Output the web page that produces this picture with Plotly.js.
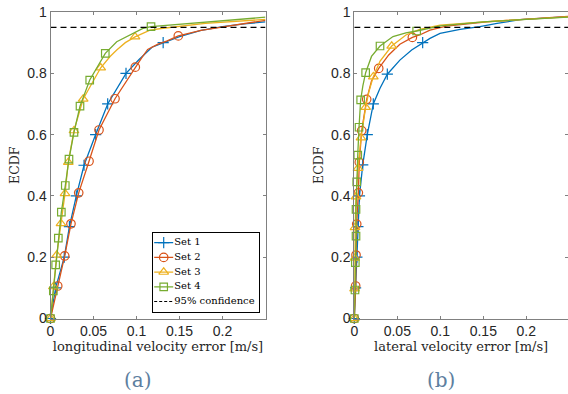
<!DOCTYPE html>
<html><head><meta charset="utf-8">
<script src="https://cdn.plot.ly/plotly-3.0.1.min.js"></script>
<style>html,body{margin:0;padding:0;background:#fff}#chart{width:568px;height:394px}</style>
</head><body><div id="chart"></div>
<script>
// ---------------- data ----------------
const seriesNames = ["Set 1", "Set 2", "Set 3", "Set 4"];
const confidenceLabel = "95% confidence";
const confidenceLevel = 0.95;
const xTickVals = [0, 0.05, 0.1, 0.15, 0.2];
const xTickText = ["0", "0.05", "0.1", "0.15", "0.2"];
const yTickVals = [0, 0.2, 0.4, 0.6, 0.8, 1];
const yTickText = ["0", "0.2", "0.4", "0.6", "0.8", "1"];
const yLabel = "ECDF";
const xLabelLong = "longitudinal velocity error [m/s]";
const xLabelLat = "lateral velocity error [m/s]";
const panelLabels = ["(a)", "(b)"];
const xMaxLong = 0.25;
const xMaxLat = 0.2485;

// (a) longitudinal: marked samples + extra line samples
const longSet1MarkX = [0, 0.006, 0.016, 0.022, 0.030, 0.039, 0.0525, 0.0665, 0.0878, 0.131];
const longSet1MarkY = [0, 0.1, 0.2, 0.3, 0.4, 0.5, 0.6, 0.7, 0.8, 0.9];
const longSet1LineX = [0.103, 0.118, 0.15, 0.175, 0.2, 0.225, 0.25];
const longSet1LineY = [0.845, 0.885, 0.92, 0.94, 0.952, 0.961, 0.968];

const longSet2MarkX = [0, 0.0084, 0.0165, 0.0238, 0.0328, 0.0448, 0.0564, 0.075, 0.0986, 0.1486];
const longSet2MarkY = [0, 0.106, 0.204, 0.309, 0.41, 0.513, 0.615, 0.717, 0.82, 0.922];
const longSet2LineX = [0.106, 0.113, 0.125, 0.135, 0.175, 0.201, 0.225, 0.25];
const longSet2LineY = [0.85, 0.878, 0.895, 0.905, 0.94, 0.952, 0.962, 0.973];

const longSet3MarkX = [0, 0.0033, 0.0072, 0.0122, 0.0169, 0.0207, 0.0273, 0.038, 0.0584, 0.0983];
const longSet3MarkY = [0, 0.104, 0.207, 0.31, 0.408, 0.51, 0.613, 0.716, 0.818, 0.919];
const longSet3LineX = [0.069, 0.077, 0.087, 0.1157, 0.131, 0.18, 0.25];
const longSet3LineY = [0.854, 0.876, 0.9, 0.941, 0.947, 0.963, 0.976];

const longSet4MarkX = [0, 0.0033, 0.006, 0.0091, 0.0126, 0.0172, 0.0215, 0.0273, 0.0343, 0.0456, 0.0637, 0.1169];
const longSet4MarkY = [0, 0.09, 0.175, 0.262, 0.347, 0.434, 0.52, 0.607, 0.693, 0.778, 0.865, 0.952];
const longSet4LineX = [0.077, 0.0963, 0.108, 0.143, 0.2, 0.25];
const longSet4LineY = [0.903, 0.93, 0.947, 0.958, 0.972, 0.983];

// (b) lateral
const latSet1MarkX = [0, 0.0015, 0.003, 0.0042, 0.006, 0.0098, 0.0151, 0.0221, 0.0384, 0.0795];
const latSet1MarkY = [0, 0.1, 0.2, 0.3, 0.4, 0.501, 0.6, 0.7, 0.797, 0.9];
const latSet1LineX = [0.0299, 0.053, 0.0667, 0.088, 0.0997, 0.123, 0.146, 0.166, 0.193, 0.2485];
const latSet1LineY = [0.751, 0.843, 0.876, 0.914, 0.93, 0.943, 0.952, 0.963, 0.975, 0.985];

const latSet2MarkX = [0, 0.0016, 0.002, 0.0028, 0.0047, 0.0058, 0.0086, 0.0144, 0.0284, 0.0675];
const latSet2MarkY = [0, 0.106, 0.207, 0.308, 0.41, 0.51, 0.613, 0.715, 0.816, 0.917];
const latSet2LineX = [0.02, 0.04, 0.053, 0.076, 0.088, 0.107, 0.154, 0.2485];
const latSet2LineY = [0.775, 0.86, 0.895, 0.925, 0.941, 0.954, 0.968, 0.986];

const latSet3MarkX = [0, 0.0003, 0.0005, 0.0008, 0.002, 0.0043, 0.0078, 0.0132, 0.0221, 0.0435];
const latSet3MarkY = [0, 0.097, 0.197, 0.297, 0.397, 0.49, 0.59, 0.689, 0.789, 0.889];
const latSet3LineX = [0.017, 0.03, 0.06, 0.076, 0.0997, 0.15, 0.2485];
const latSet3LineY = [0.74, 0.84, 0.925, 0.943, 0.957, 0.968, 0.984];

const latSet4MarkX = [0, 0.0008, 0.0012, 0.002, 0.002, 0.0028, 0.004, 0.0055, 0.0074, 0.0132, 0.0299, 0.0725];
const latSet4MarkY = [0, 0.093, 0.182, 0.269, 0.356, 0.446, 0.533, 0.624, 0.713, 0.802, 0.889, 0.938];
const latSet4LineX = [0.01, 0.02, 0.045, 0.06, 0.1, 0.15, 0.2485];
const latSet4LineY = [0.76, 0.855, 0.92, 0.932, 0.955, 0.968, 0.983];

// ---------------- styles ----------------
const colors = ["#0072BD", "#D95319", "#EDB120", "#77AC30"];
const symbols = ["cross-thin-open", "circle-open", "triangle-up-open", "square-open"];
const msizes = [8, 8.5, 8.5, 7.5];
const serif = "DejaVu Serif";
const sans = "Liberation Sans";

function merge(mx, my, lx, ly) {
  const pts = mx.map((x, i) => [x, my[i]]).concat(lx.map((x, i) => [x, ly[i]]));
  pts.sort((a, b) => a[1] - b[1] || a[0] - b[0]);
  return {x: pts.map(p => p[0]), y: pts.map(p => p[1])};
}

const longData = [
  [longSet1MarkX, longSet1MarkY, longSet1LineX, longSet1LineY],
  [longSet2MarkX, longSet2MarkY, longSet2LineX, longSet2LineY],
  [longSet3MarkX, longSet3MarkY, longSet3LineX, longSet3LineY],
  [longSet4MarkX, longSet4MarkY, longSet4LineX, longSet4LineY]
];
const latData = [
  [latSet1MarkX, latSet1MarkY, latSet1LineX, latSet1LineY],
  [latSet2MarkX, latSet2MarkY, latSet2LineX, latSet2LineY],
  [latSet3MarkX, latSet3MarkY, latSet3LineX, latSet3LineY],
  [latSet4MarkX, latSet4MarkY, latSet4LineX, latSet4LineY]
];

const traces = [];
function addPanel(data, xa, ya, xMax) {
  data.forEach((d, i) => {
    const line = merge(d[0], d[1], d[2], d[3]);
    traces.push({x: line.x, y: line.y, xaxis: xa, yaxis: ya, mode: "lines",
      line: {color: colors[i], width: 1.3}, showlegend: false, hoverinfo: "skip"});
    traces.push({x: d[0], y: d[1], xaxis: xa, yaxis: ya, mode: "markers",
      marker: {symbol: symbols[i], size: msizes[i], color: colors[i], line: {color: colors[i], width: 1.2}},
      showlegend: false, hoverinfo: "skip", cliponaxis: false});
  });
  traces.push({x: [0, xMax], y: [confidenceLevel, confidenceLevel], xaxis: xa, yaxis: ya, mode: "lines",
    line: {color: "#000", width: 1.2, dash: "6px,4px"}, showlegend: false, hoverinfo: "skip"});
}
addPanel(longData, "x", "y", xMaxLong);
addPanel(latData, "x2", "y2", xMaxLat);

// custom legend drawn in its own small axes (units = pixels)
const legW = 106, legH = 78.4, legStep = 14.7, legTop = legH - 9.4;
const legendLabels = seriesNames.concat([confidenceLabel]);
legendLabels.forEach((lab, i) => {
  const yc = legTop - i * legStep;
  const isConf = i === seriesNames.length;
  traces.push({x: [1.5, 20.5], y: [yc, yc], xaxis: "x3", yaxis: "y3", mode: "lines",
    line: {color: isConf ? "#000" : colors[i], width: isConf ? 1 : 1.3, dash: isConf ? "3px,2px" : "solid"},
    showlegend: false, hoverinfo: "skip"});
  if (!isConf) {
    traces.push({x: [11], y: [yc], xaxis: "x3", yaxis: "y3", mode: "markers",
      marker: {symbol: symbols[i], size: msizes[i], color: colors[i], line: {color: colors[i], width: 1.2}},
      showlegend: false, hoverinfo: "skip"});
  }
});
traces.push({x: legendLabels.map(() => 21.5), y: legendLabels.map((_, i) => legTop - i * legStep),
  text: legendLabels, xaxis: "x3", yaxis: "y3", mode: "text", textposition: "middle right",
  textfont: {family: serif, size: 10, color: "#000"}, showlegend: false, hoverinfo: "skip"});

const W = 568, H = 394;
const ax = {
  showline: true, linecolor: "#808080", linewidth: 1, mirror: "ticks",
  ticks: "inside", ticklen: 3, tickwidth: 1, tickcolor: "#808080",
  tickfont: {family: sans, size: 14, color: "#262626"},
  showgrid: false, zeroline: false, fixedrange: true
};
const yDom = [(H - 318.5) / H, (H - 12) / H];
function xAxis(domain, xMax, title) {
  return Object.assign({}, ax, {domain: domain, range: [0, xMax], tickvals: xTickVals, ticktext: xTickText,
    title: {text: title, font: {family: serif, size: 13, color: "#262626"}, standoff: 2}});
}
function yAxis(anchor) {
  return Object.assign({}, ax, {domain: yDom, range: [0, 1], anchor: anchor, tickvals: yTickVals, ticktext: yTickText,
    title: {text: yLabel, font: {family: serif, size: 12.5, color: "#262626"}, standoff: 4}});
}

const layout = {
  width: W, height: H, autosize: false,
  margin: {l: 0, r: 0, t: 0, b: 0},
  paper_bgcolor: "#fff", plot_bgcolor: "#fff",
  showlegend: false,
  xaxis: Object.assign(xAxis([50.5 / W, 265.5 / W], xMaxLong, xLabelLong), {anchor: "y"}),
  yaxis: yAxis("x"),
  xaxis2: Object.assign(xAxis([354.3 / W, 1], xMaxLat, xLabelLat), {anchor: "y2"}),
  yaxis2: yAxis("x2"),
  xaxis3: {domain: [152.7 / W, 258.7 / W], range: [0, legW], anchor: "y3", showline: true, mirror: true,
    linecolor: "#000", linewidth: 1, showticklabels: false, ticks: "", showgrid: false, zeroline: false, fixedrange: true},
  yaxis3: {domain: [(H - 311.7) / H, (H - 233.3) / H], range: [0, legH], anchor: "x3", showline: true, mirror: true,
    linecolor: "#000", linewidth: 1, showticklabels: false, ticks: "", showgrid: false, zeroline: false, fixedrange: true},
  annotations: [
    {text: panelLabels[0], xref: "paper", yref: "paper", x: 138 / W, y: (H - 380) / H, xanchor: "center", yanchor: "middle",
      showarrow: false, font: {family: serif, size: 20, color: "#5d7fa0"}},
    {text: panelLabels[1], xref: "paper", yref: "paper", x: 441 / W, y: (H - 380) / H, xanchor: "center", yanchor: "middle",
      showarrow: false, font: {family: serif, size: 20, color: "#5d7fa0"}}
  ]
};

Plotly.newPlot("chart", traces, layout, {staticPlot: true, displayModeBar: false});
</script>
</body></html>
